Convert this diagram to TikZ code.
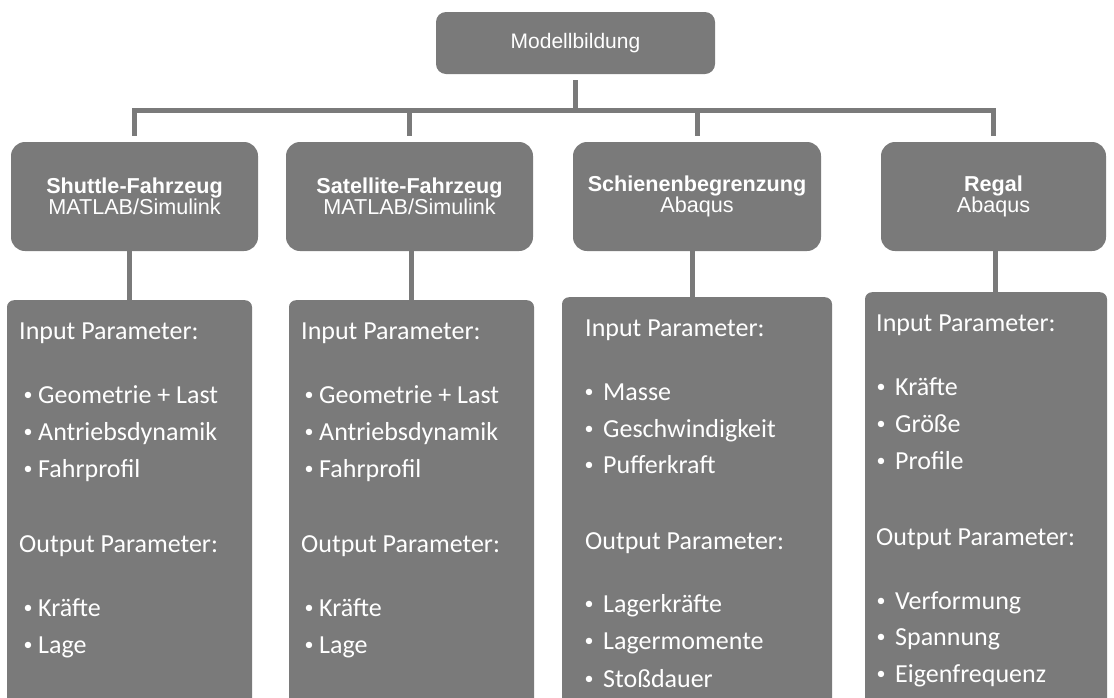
\documentclass[tikz,border=0pt]{standalone}
\usepackage{fontspec}
\setmainfont{Liberation Sans}
\newfontfamily\carlito{Carlito}
\definecolor{boxgray}{RGB}{122,122,122}
\newcommand\itm[2]{\makebox[0pt][c]{\raisebox{3pt}{\fontsize{18}{18}\selectfont\textbullet}}\hspace{#1}#2}
\begin{document}
\begin{tikzpicture}[x=1pt,y=-1pt,
  box/.style={fill=boxgray, draw=none, inner sep=0pt, text=white},
  topbox/.style={box, rounded corners=10pt, minimum width=279pt, minimum height=62pt,
    font=\fontsize{21}{21}\selectfont},
  hdr/.style={box, rounded corners=14pt, minimum width=#1, minimum height=109pt,
    align=center, font=\fontsize{21.6}{21}\selectfont},
  low/.style={box, rounded corners=7pt, minimum width=#1, minimum height=440pt, anchor=north},
  txt/.style={inner sep=0pt, anchor=base west, text=white,
    font=\carlito\fontsize{26}{26}\selectfont},
  conn/.style={draw=boxgray, line width=5pt}]
\useasboundingbox (0,0) rectangle (1114,697);
\clip (0,0) rectangle (1114,697);

% top
\node[topbox] (top) at (575.5,43) {Modellbildung};

% headers
\node[hdr=247pt] (shuttle) at (134.5,196.5) {\textbf{Shuttle-Fahrzeug}\\MATLAB/Simulink};
\node[hdr=247pt] (satellite) at (409.5,196.5) {\textbf{Satellite-Fahrzeug}\\MATLAB/Simulink};
\node[hdr=248pt] (schienen) at (697,196.5) {\textbf{Schienenbegrenzung}\\Abaqus};
\node[hdr=225pt] (regal) at (993.5,196.5) {\textbf{Regal}\\Abaqus};

% lower boxes
\node[low=245pt] (shL) at (129.5,300) {};
\node[low=245pt] (saL) at (411.5,300) {};
\node[low=270pt] (scL) at (697,297) {};
\node[low=242pt] (reL) at (986,292) {};

% tree connectors
\coordinate (bar) at (0,110.5);
\foreach \c in {shuttle,satellite,schienen,regal}
  \draw[conn, shorten <=6pt, shorten >=6pt] (top.south) |- (bar -| \c.north) -- (\c.north);

% stems to lower boxes
\draw[conn] (shL.north) -- (shL.north |- shuttle.south);
\draw[conn] (saL.north) -- (saL.north |- satellite.south);
\draw[conn] ([xshift=-5pt]schienen.south) -- ([xshift=-5pt]schienen.south |- scL.north);
\draw[conn] ([xshift=1.5pt]regal.south) -- ([xshift=1.5pt]regal.south |- reL.north);

% Shuttle list
\node[txt] (shIn) at (19,339) {Input Parameter:};
\node[txt] (sh1) at (28,403) {\itm{10pt}{Geometrie + Last}};
\node[txt] (sh2) at (28,440) {\itm{10pt}{Antriebsdynamik}};
\node[txt] (sh3) at (28,477) {\itm{10pt}{Fahrprofil}};
\node[txt] (shOut) at (19,552) {Output Parameter:};
\node[txt] (sh4) at (28,616) {\itm{10pt}{Kräfte}};
\node[txt] (sh5) at (28,653) {\itm{10pt}{Lage}};

% Satellite list
\node[txt] (saIn) at (301,339) {Input Parameter:};
\node[txt] (sa1) at (309,403) {\itm{10pt}{Geometrie + Last}};
\node[txt] (sa2) at (309,440) {\itm{10pt}{Antriebsdynamik}};
\node[txt] (sa3) at (309,477) {\itm{10pt}{Fahrprofil}};
\node[txt] (saOut) at (301,552) {Output Parameter:};
\node[txt] (sa4) at (309,616) {\itm{10pt}{Kräfte}};
\node[txt] (sa5) at (309,653) {\itm{10pt}{Lage}};

% Schienen list
\node[txt] (scIn) at (585,336) {Input Parameter:};
\node[txt] (sc1) at (589,400) {\itm{14pt}{Masse}};
\node[txt] (sc2) at (589,437) {\itm{14pt}{Geschwindigkeit}};
\node[txt] (sc3) at (589,473) {\itm{14pt}{Pufferkraft}};
\node[txt] (scOut) at (585,549) {Output Parameter:};
\node[txt] (sc4) at (589,612) {\itm{14pt}{Lagerkräfte}};
\node[txt] (sc5) at (589,649) {\itm{14pt}{Lagermomente}};
\node[txt] (sc6) at (589,687) {\itm{14pt}{Stoßdauer}};

% Regal list
\node[txt] (reIn) at (876,331) {Input Parameter:};
\node[txt] (re1) at (881,395) {\itm{14pt}{Kräfte}};
\node[txt] (re2) at (881,432) {\itm{14pt}{Größe}};
\node[txt] (re3) at (881,469) {\itm{14pt}{Profile}};
\node[txt] (reOut) at (876,545) {Output Parameter:};
\node[txt] (re4) at (881,609) {\itm{14pt}{Verformung}};
\node[txt] (re5) at (881,645) {\itm{14pt}{Spannung}};
\node[txt] (re6) at (881,682) {\itm{14pt}{Eigenfrequenz}};
\end{tikzpicture}
\end{document}
